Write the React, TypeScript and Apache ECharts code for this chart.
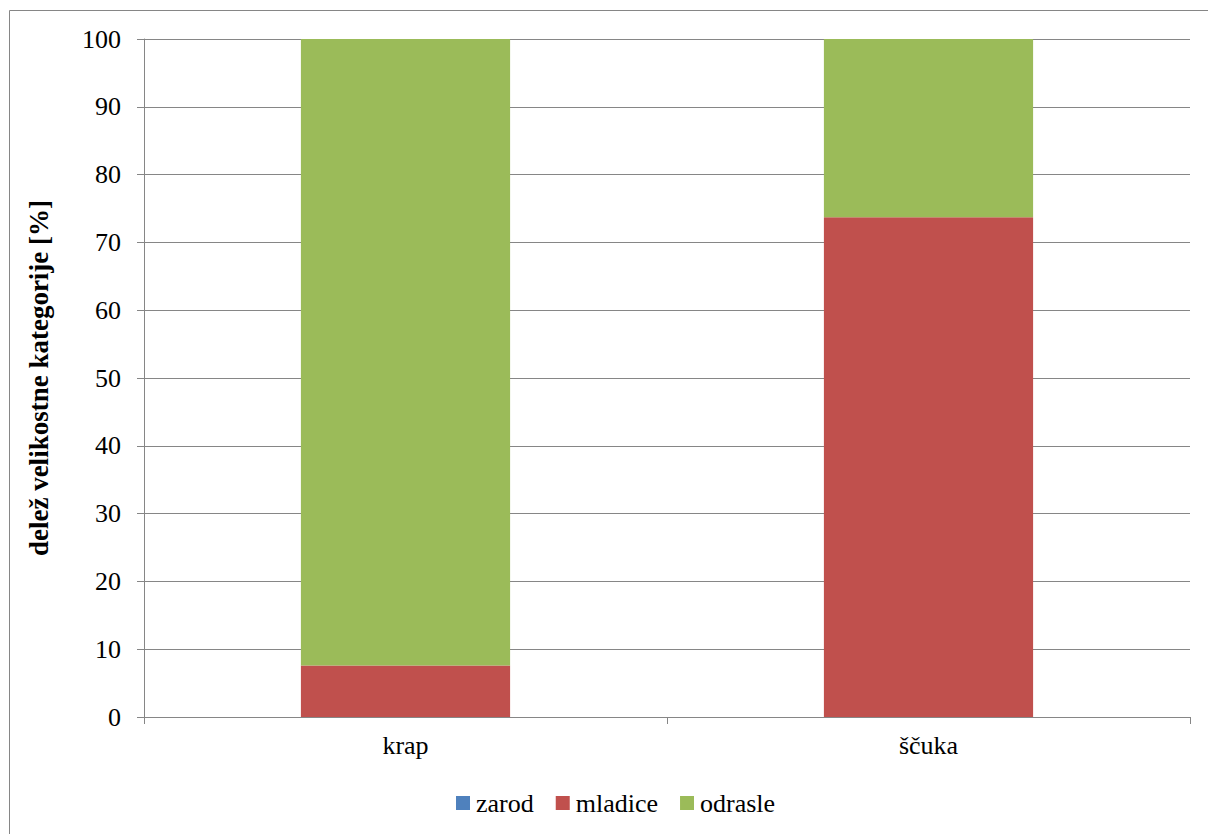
import React, { useEffect, useRef } from "react";
import * as echarts from "echarts";

const categories = ["krap", "ščuka"];
const seriesNames = ["zarod", "mladice", "odrasle"];
const zarod = [0, 0];
const mladice = [7.6, 73.7];
const odrasle = [92.4, 26.3];
const colors = ["#4F81BD", "#C0504D", "#9BBB59"];

const FONT = "Times New Roman, Liberation Serif, serif";
const AXIS = "#868686";

export default function App() {
  const ref = useRef<HTMLDivElement>(null);

  useEffect(() => {
    document.body.style.margin = "0";
    const chart = echarts.init(ref.current!, null, { renderer: "svg" });
    const values = [zarod, mladice, odrasle];
    chart.setOption({
      animation: false,
      backgroundColor: "#ffffff",
      textStyle: { fontFamily: FONT },
      graphic: [
        {
          type: "rect",
          shape: { x: 9.5, y: 10.5, width: 1240, height: 860 },
          style: { fill: "none", stroke: AXIS, lineWidth: 1 },
          silent: true,
        },
      ],
      grid: { left: 144, top: 39, right: 18, bottom: 117 },
      legend: {
        top: 785,
        left: 451,
        icon: "rect",
        itemWidth: 14,
        itemHeight: 14,
        itemGap: 22,
        textStyle: { fontFamily: FONT, fontSize: 26, color: "#000", padding: [0, 0, 0, 1] },
        data: seriesNames,
      },
      xAxis: {
        type: "category",
        data: categories,
        axisLine: { lineStyle: { color: AXIS, width: 1 } },
        axisTick: { show: true, length: 7, lineStyle: { color: AXIS } },
        axisLabel: { fontFamily: FONT, fontSize: 26, color: "#000", margin: 15 },
      },
      yAxis: {
        type: "value",
        min: 0,
        max: 100,
        interval: 10,
        name: "delež velikostne kategorije [%]",
        nameLocation: "middle",
        nameGap: 92,
        nameTextStyle: { fontFamily: FONT, fontSize: 27, fontWeight: "bold", color: "#000" },
        axisLine: { show: true, lineStyle: { color: AXIS, width: 1 } },
        axisTick: { show: true, length: 7, lineStyle: { color: AXIS } },
        axisLabel: { fontFamily: FONT, fontSize: 26, color: "#000", margin: 23 },
        splitLine: { lineStyle: { color: AXIS, width: 1 } },
      },
      series: seriesNames.map((name, i) => ({
        name,
        type: "bar",
        stack: "total",
        barWidth: "40%",
        itemStyle: { color: colors[i] },
        data: values[i],
      })),
    });
    return () => chart.dispose();
  }, []);

  return <div ref={ref} style={{ width: 1208, height: 834 }} />;
}
